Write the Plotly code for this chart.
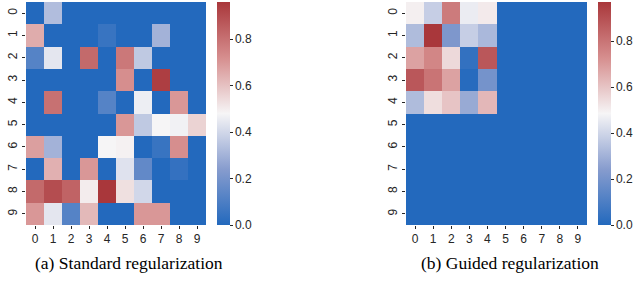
import plotly.graph_objects as go

labels = [str(i) for i in range(10)]

standard = [
    [0.00, 0.33, 0.00, 0.00, 0.00, 0.00, 0.00, 0.00, 0.00, 0.00],
    [0.65, 0.00, 0.00, 0.00, 0.05, 0.00, 0.00, 0.30, 0.00, 0.00],
    [0.12, 0.44, 0.00, 0.82, 0.00, 0.78, 0.36, 0.00, 0.00, 0.00],
    [0.00, 0.00, 0.00, 0.00, 0.00, 0.72, 0.00, 0.94, 0.00, 0.00],
    [0.00, 0.80, 0.00, 0.00, 0.12, 0.00, 0.46, 0.00, 0.70, 0.00],
    [0.00, 0.00, 0.00, 0.00, 0.00, 0.70, 0.36, 0.48, 0.47, 0.56],
    [0.68, 0.30, 0.00, 0.00, 0.48, 0.49, 0.00, 0.05, 0.72, 0.00],
    [0.00, 0.64, 0.00, 0.70, 0.00, 0.43, 0.15, 0.00, 0.04, 0.00],
    [0.82, 0.90, 0.84, 0.50, 0.96, 0.53, 0.40, 0.00, 0.00, 0.00],
    [0.70, 0.44, 0.12, 0.62, 0.00, 0.00, 0.70, 0.70, 0.00, 0.00],
]

guided = [
    [0.50, 0.38, 0.78, 0.46, 0.51, 0, 0, 0, 0, 0],
    [0.33, 0.97, 0.22, 0.38, 0.32, 0, 0, 0, 0, 0],
    [0.68, 0.75, 0.55, 0.04, 0.88, 0, 0, 0, 0, 0],
    [0.88, 0.80, 0.68, 0.01, 0.20, 0, 0, 0, 0, 0],
    [0.33, 0.54, 0.60, 0.28, 0.63, 0, 0, 0, 0, 0],
    [0, 0, 0, 0, 0, 0, 0, 0, 0, 0],
    [0, 0, 0, 0, 0, 0, 0, 0, 0, 0],
    [0, 0, 0, 0, 0, 0, 0, 0, 0, 0],
    [0, 0, 0, 0, 0, 0, 0, 0, 0, 0],
    [0, 0, 0, 0, 0, 0, 0, 0, 0, 0],
]

cb_ticks = [0.0, 0.2, 0.4, 0.6, 0.8]
captions = ["(a) Standard regularization", "(b) Guided regularization"]

vlag = [
    [0.0, "rgb(35,105,189)"],
    [0.25, "rgb(135,156,206)"],
    [0.5, "rgb(246,245,246)"],
    [0.75, "rgb(214,142,142)"],
    [1.0, "rgb(169,55,59)"],
]

W, H = 640, 289
def fx(px):
    return px / W
def fy(py):
    return 1 - py / H

fig = go.Figure()
tickfont = dict(family="Liberation Sans, Arial, sans-serif", size=12, color="#262626")

for i, (z, x0, x1, cbx, cap_x) in enumerate([
    (standard, 26, 206, 217, 129),
    (guided, 406, 587, 598, 510),
]):
    ax = "" if i == 0 else "2"
    fig.add_trace(go.Heatmap(
        z=z, x=labels, y=labels,
        xaxis="x" + ax, yaxis="y" + ax,
        colorscale=vlag, zmin=0, zmax=max(max(r) for r in z),
        colorbar=dict(
            x=fx(cbx), xanchor="left", thickness=13, len=fy(2) - fy(225),
            y=fy(225), yanchor="bottom", lenmode="fraction",
            tickvals=cb_ticks, ticktext=[f"{t:.1f}" for t in cb_ticks],
            ticks="outside", ticklen=3, tickcolor="#262626",
            tickfont=tickfont, outlinewidth=0, xpad=0, ypad=0,
        ),
        hoverinfo="skip",
    ))
    fig.layout["xaxis" + ax] = dict(
        domain=[fx(x0), fx(x1)], anchor="y" + ax, tickfont=tickfont,
        ticks="outside", ticklen=3, tickcolor="#262626", showgrid=False,
        zeroline=False, tickangle=0,
    )
    fig.layout["yaxis" + ax] = dict(
        domain=[fy(225), fy(2)], anchor="x" + ax, tickfont=tickfont,
        autorange="reversed", ticks="outside", ticklen=3, tickcolor="#262626",
        showgrid=False, zeroline=False, tickangle=-90,
    )
    fig.add_annotation(
        text=captions[i], x=fx(cap_x), y=fy(263), xref="paper", yref="paper",
        xanchor="center", yanchor="middle", showarrow=False,
        font=dict(family="Liberation Serif, Times New Roman, serif", size=17.5, color="black"),
    )

fig.update_layout(
    width=W, height=H, margin=dict(l=0, r=0, t=0, b=0, autoexpand=False),
    paper_bgcolor="white", plot_bgcolor="white",
)

fig.write_html(
    "out.html",
    config={"displayModeBar": False, "staticPlot": True},
    post_script="document.body.style.margin='0';document.body.style.overflow='hidden';",
)
